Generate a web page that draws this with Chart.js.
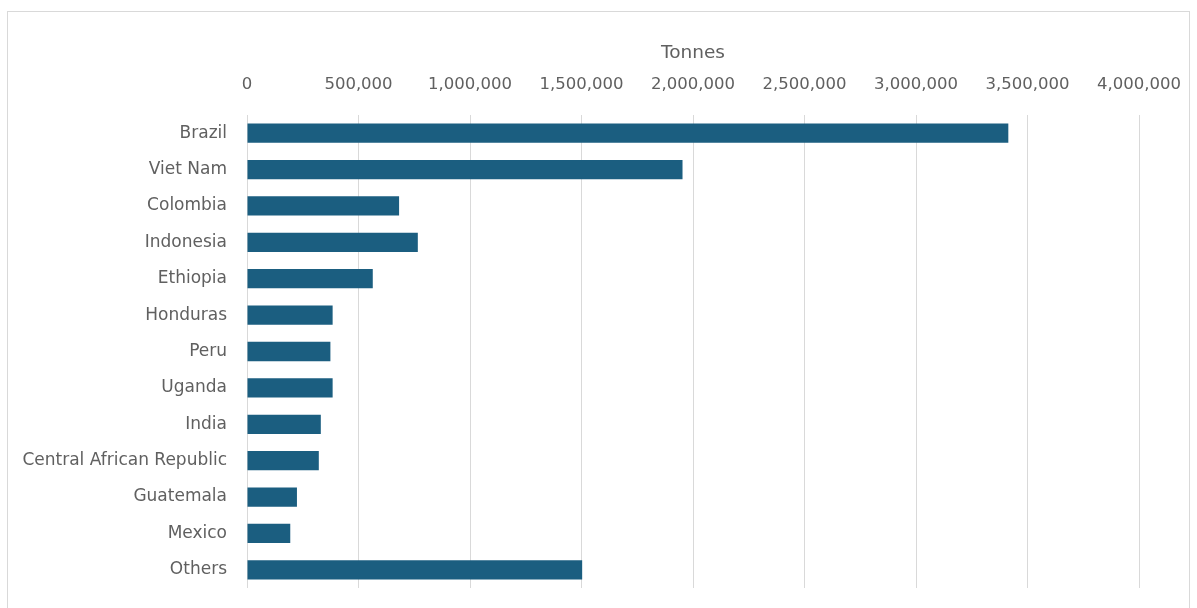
<!DOCTYPE html>
<html>
<head>
<meta charset="utf-8">
<script src="https://cdn.jsdelivr.net/npm/chart.js@4.4.1/dist/chart.umd.min.js"></script>
<style>
  html, body { margin: 0; padding: 0; background: #ffffff; }
  #wrap { position: relative; width: 1197px; height: 608px; }
  #frame { position: absolute; left: 7px; top: 11px; width: 1183px; height: 610px; border: 1px solid #d9d9d9; box-sizing: border-box; }
  canvas { position: absolute; left: 0; top: 0; }
</style>
</head>
<body>
<div id="wrap">
  <div id="frame"></div>
  <canvas id="c" width="1197" height="608"></canvas>
</div>
<script>
const categories = ["Brazil", "Viet Nam", "Colombia", "Indonesia", "Ethiopia", "Honduras", "Peru", "Uganda", "India", "Central African Republic", "Guatemala", "Mexico", "Others"];
const tonnes = [3414000, 1953000, 682000, 766000, 564000, 384000, 374000, 384000, 331000, 322000, 224000, 194000, 1503000];
const axisTitle = "Tonnes";
const xMax = 4000000;
const xStep = 500000;

const textColor = "#606060";
const fontFamily = "'DejaVu Sans', 'Liberation Sans', sans-serif";

new Chart(document.getElementById("c"), {
  type: "bar",
  data: {
    labels: categories,
    datasets: [{
      data: tonnes,
      backgroundColor: "#1B5E80",
      borderWidth: 0,
      categoryPercentage: 1.0,
      barPercentage: 0.53
    }]
  },
  options: {
    indexAxis: "y",
    responsive: false,
    animation: false,
    devicePixelRatio: 1,
    layout: { padding: { left: 0, right: 58, top: 0, bottom: 20 } },
    plugins: { legend: { display: false }, tooltip: { enabled: false } },
    scales: {
      x: {
        position: "top",
        min: 0,
        max: xMax,
        ticks: {
          stepSize: xStep,
          color: textColor,
          font: { family: fontFamily, size: 16.5 },
          padding: 20,
          callback: v => Number(v).toLocaleString("en-US")
        },
        grid: { color: "#d9d9d9", lineWidth: 1, drawTicks: false },
        border: { display: false },
        title: {
          display: true,
          text: axisTitle,
          color: textColor,
          font: { family: fontFamily, size: 18.5 },
          padding: { top: 42, bottom: 0 }
        },
        afterFit: s => { s.height = 115; s.paddingLeft = 0; s.paddingRight = 0; }
      },
      y: {
        ticks: {
          color: textColor,
          font: { family: fontFamily, size: 17 },
          padding: 20
        },
        grid: { display: false, drawTicks: false },
        border: { display: false },
        afterFit: s => { s.width = 247; s.paddingTop = 0; s.paddingBottom = 0; }
      }
    }
  }
});
</script>
</body>
</html>
